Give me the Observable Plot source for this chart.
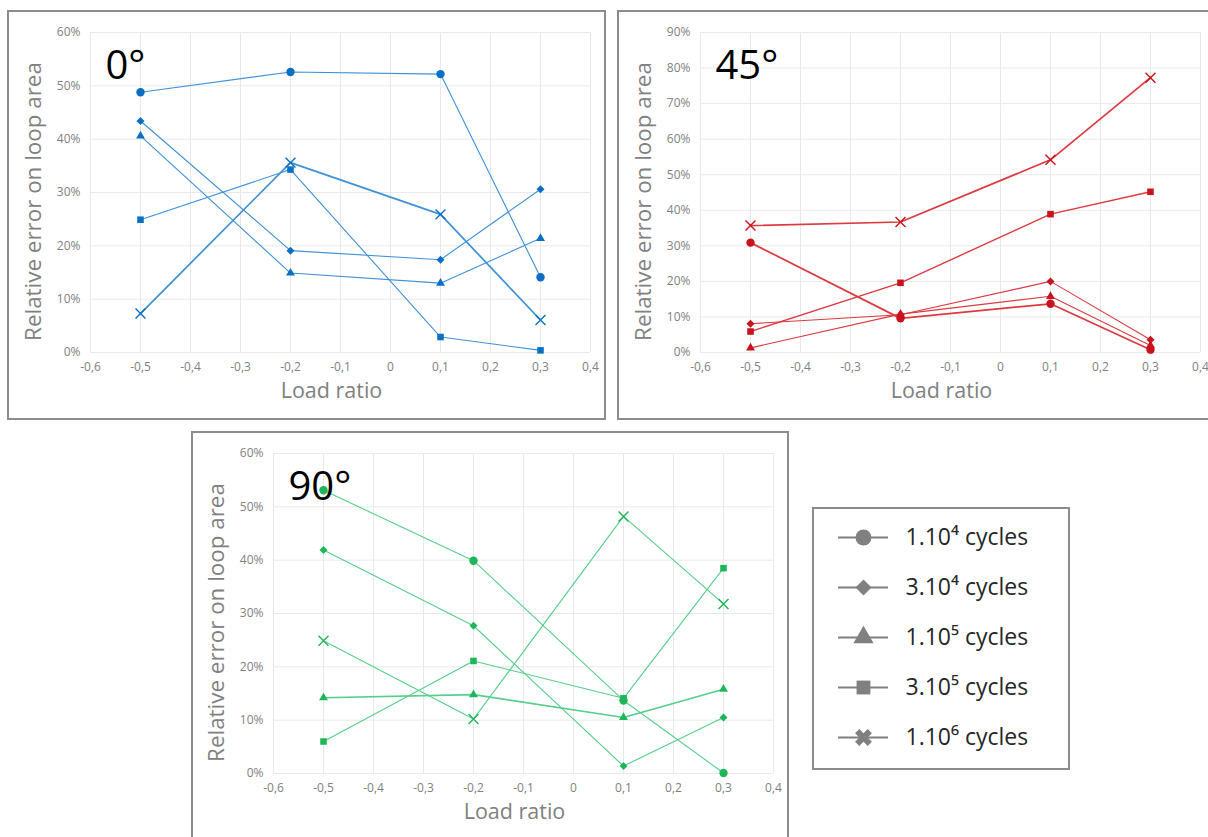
<!DOCTYPE html>
<html><head><meta charset="utf-8">
<script src="https://cdn.jsdelivr.net/npm/d3@7"></script>
<script src="https://cdn.jsdelivr.net/npm/@observablehq/plot@0.6"></script>
<style>
html,body{margin:0;padding:0;background:#fff}
body{width:1208px;height:837px;overflow:hidden;position:relative;font-family:"Open Sans",sans-serif}
.panel{position:absolute}
.panel svg{display:block;overflow:visible}
.frame{position:absolute;border:2px solid #8c8c8c;box-sizing:border-box;pointer-events:none}
</style></head><body>
<div class="frame" style="left:7px;top:10px;width:599px;height:410px"></div>
<div class="frame" style="left:617px;top:10px;width:610px;height:410px"></div>
<div class="frame" style="left:191px;top:431px;width:598px;height:430px"></div>
<div class="frame" style="left:812px;top:507px;width:258px;height:263px"></div>
<div id="p0" class="panel" style="left:7px;top:10px"></div>
<div id="p45" class="panel" style="left:617px;top:10px"></div>
<div id="p90" class="panel" style="left:191px;top:431px"></div>
<div id="leg" class="panel" style="left:812px;top:507px"></div>
<script>
// ---- data ----
const loadRatios = [-0.5, -0.2, 0.1, 0.3];
const seriesNames = ["1.10⁴ cycles", "3.10⁴ cycles", "1.10⁵ cycles", "3.10⁵ cycles", "1.10⁶ cycles"];
const seriesSymbols = ["circle", "diamond2", "triangle", "square", "times"];
const xTicks = [-0.6, -0.5, -0.4, -0.3, -0.2, -0.1, 0, 0.1, 0.2, 0.3, 0.4];
const yTicks60 = [0, 0.1, 0.2, 0.3, 0.4, 0.5, 0.6];
const yTicks90 = [0, 0.1, 0.2, 0.3, 0.4, 0.5, 0.6, 0.7, 0.8, 0.9];
const panelLabels = ["0°", "45°", "90°"];
const xTitle = "Load ratio";
const yTitle = "Relative error on loop area";

// 0° orientation (relative error, fraction)
const deg0_1e4 = [0.488, 0.526, 0.522, 0.141];
const deg0_3e4 = [0.434, 0.191, 0.174, 0.306];
const deg0_1e5 = [0.406, 0.149, 0.130, 0.214];
const deg0_3e5 = [0.249, 0.343, 0.029, 0.004];
const deg0_1e6 = [0.073, 0.356, 0.259, 0.061];
// 45° orientation
const deg45_1e4 = [0.309, 0.096, 0.137, 0.008];
const deg45_3e4 = [0.081, 0.106, 0.200, 0.036];
const deg45_1e5 = [0.013, 0.108, 0.158, 0.020];
const deg45_3e5 = [0.059, 0.196, 0.389, 0.452];
const deg45_1e6 = [0.357, 0.367, 0.542, 0.773];
// 90° orientation
const deg90_1e4 = [0.531, 0.399, 0.137, 0.001];
const deg90_3e4 = [0.419, 0.277, 0.014, 0.105];
const deg90_1e5 = [0.142, 0.148, 0.105, 0.158];
const deg90_3e5 = [0.060, 0.211, 0.141, 0.385];
const deg90_1e6 = [0.249, 0.102, 0.482, 0.318];

// ---- helpers ----
const fmtX = d => d === 0 ? "0" : d.toFixed(1).replace(".", ",");
const fmtY = d => Math.round(d * 100) + "%";
const markerR = {circle: 4.2, diamond2: 3.6, triangle: 3.3, square: 3.7, times: 4.6};

function panel({label, series, yTicks, lineColor, dotColor, widths, width, height, ml, mr, mt, mb}) {
  const rows = series.flatMap((vals, i) => loadRatios.map((r, j) => ({series: seriesNames[i], sym: seriesSymbols[i], r, v: vals[j]})));
  const marks = [
    Plot.ruleX(xTicks, {stroke: "#e9e9e9", strokeWidth: 1}),
    Plot.ruleY(yTicks, {stroke: "#e9e9e9", strokeWidth: 1})
  ];
  seriesNames.forEach((s, i) => {
    const sub = rows.filter(d => d.series === s);
    marks.push(Plot.line(sub, {x: "r", y: "v", stroke: lineColor, strokeWidth: widths[i]}));
  });
  seriesNames.forEach((s, i) => {
    const sub = rows.filter(d => d.series === s);
    const sym = seriesSymbols[i];
    if (sym === "times") {
      marks.push(Plot.dot(sub, {x: "r", y: "v", symbol: sym, r: markerR[sym], stroke: dotColor, strokeWidth: 1.4, fill: "none"}));
    } else {
      marks.push(Plot.dot(sub, {x: "r", y: "v", symbol: sym, r: markerR[sym], fill: dotColor, stroke: "none"}));
    }
  });
  marks.push(Plot.text([xTitle], {text: d => d, frameAnchor: "bottom", lineAnchor: "middle", textAnchor: "middle", dy: 39, dx: -9, fontSize: 21.5, fill: "#808080"}));
  marks.push(Plot.text([yTitle], {text: d => d, frameAnchor: "left", lineAnchor: "middle", textAnchor: "middle", rotate: -90, dx: -57, dy: 9, fontSize: 22.4, fill: "#808080"}));
  marks.push(Plot.text([label], {text: d => d, frameAnchor: "top-left", textAnchor: "start", lineAnchor: "bottom", dx: 15, dy: 46, fontSize: 40, fill: "#000"}));
  return Plot.plot({
    width, height, marginLeft: ml, marginRight: mr, marginTop: mt, marginBottom: mb,
    style: {fontFamily: "'Open Sans', sans-serif", fontSize: "12px", color: "#7f7f7f", background: "transparent", overflow: "visible"},
    x: {domain: [-0.6, 0.4], ticks: xTicks, tickFormat: fmtX, tickSize: 0, tickPadding: 10, label: null},
    y: {domain: [0, yTicks[yTicks.length - 1]], ticks: yTicks, tickFormat: fmtY, tickSize: 0, tickPadding: 10, label: null},
    marks
  });
}

document.getElementById("p0").appendChild(panel({
  label: panelLabels[0],
  series: [deg0_1e4, deg0_3e4, deg0_1e5, deg0_3e5, deg0_1e6],
  yTicks: yTicks60, lineColor: "#3f91d8", dotColor: "#0a6fc2",
  widths: [1.1, 1.1, 1.1, 1.1, 1.7],
  width: 599, height: 410, ml: 83, mr: 16, mt: 22, mb: 68
}));
document.getElementById("p45").appendChild(panel({
  label: panelLabels[1],
  series: [deg45_1e4, deg45_3e4, deg45_1e5, deg45_3e5, deg45_1e6],
  yTicks: yTicks90, lineColor: "#dc3a40", dotColor: "#c8121c",
  widths: [1.7, 1.1, 1.1, 1.4, 1.7],
  width: 591, height: 410, ml: 83, mr: 8, mt: 22, mb: 68
}));
document.getElementById("p90").appendChild(panel({
  label: panelLabels[2],
  series: [deg90_1e4, deg90_3e4, deg90_1e5, deg90_3e5, deg90_1e6],
  yTicks: yTicks60, lineColor: "#55cf8a", dotColor: "#1fb65a",
  widths: [1.1, 1.1, 1.7, 1.1, 1.1],
  width: 598, height: 406, ml: 82, mr: 16, mt: 22, mb: 64
}));

// ---- legend ----
const legendSymbols = ["circle", "diamond2", "triangle", "square", "cross"];
const legendR = {circle: 8, diamond2: 7.2, triangle: 7.5, square: 7.8, cross: 7.5};
const legRows = seriesNames.map((s, i) => ({series: s, sym: legendSymbols[i]}));
const legMarks = [
  Plot.ruleY(legRows, {y: "series", x1: 0, x2: 1, stroke: "#808080", strokeWidth: 2})
];
legRows.forEach(d => {
  legMarks.push(Plot.dot([d], {x: 0.5, y: "series", symbol: d.sym, r: legendR[d.sym], fill: "#808080", stroke: "none", rotate: d.sym === "cross" ? 45 : 0}));
});
legMarks.push(Plot.text(legRows, {x: 1, y: "series", text: "series", textAnchor: "start", dx: 17, fontSize: 23, fill: "#262626"}));
document.getElementById("leg").appendChild(Plot.plot({
  width: 258, height: 263, margin: 0,
  style: {fontFamily: "'Open Sans', sans-serif", background: "transparent", overflow: "visible"},
  x: {domain: [0, 1], range: [26, 76], axis: null},
  y: {type: "point", domain: seriesNames, range: [29, 230], padding: 0, axis: null},
  marks: legMarks
}));
</script>
</body></html>
